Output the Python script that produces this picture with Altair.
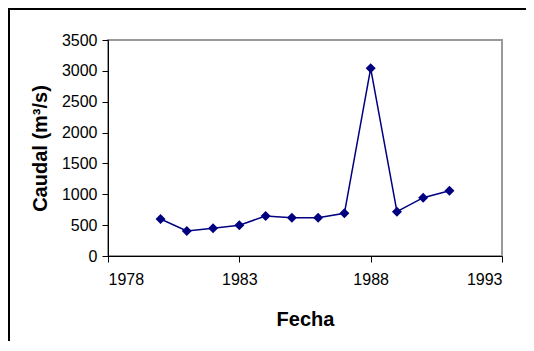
import altair as alt
import pandas as pd

years = [1980, 1981, 1982, 1983, 1984, 1985, 1986, 1987, 1988, 1989, 1990, 1991]
caudal = [600, 405, 450, 500, 648, 621, 621, 691, 3041, 718, 945, 1058]
x_ticks = [1978, 1983, 1988, 1993]
y_ticks = [0, 500, 1000, 1500, 2000, 2500, 3000, 3500]

df = pd.DataFrame({"Fecha": years, "Caudal": caudal})

FONT = "Liberation Sans"

x = alt.X("Fecha:Q", scale=alt.Scale(domain=[1978, 1993], nice=False, zero=False),
          axis=alt.Axis(title="Fecha", values=x_ticks, format="d", grid=False,
                        tickSize=6, tickColor="black", domainColor="black",
                        labelFontSize=16, labelColor="black", labelPadding=9,
                        titleFontSize=20, titleFontWeight="bold", titleColor="black",
                        titlePadding=22, labelFont=FONT, titleFont=FONT))
y = alt.Y("Caudal:Q", scale=alt.Scale(domain=[0, 3500], nice=False),
          axis=alt.Axis(title="Caudal (m³/s)", values=y_ticks, format="d", grid=False,
                        tickSize=6, tickColor="black", domainColor="black",
                        labelFontSize=16, labelColor="black", labelPadding=5,
                        titleFontSize=20, titleFontWeight="bold", titleColor="black",
                        titlePadding=11, labelFont=FONT, titleFont=FONT))

line = alt.Chart(df).mark_line(color="#000080", strokeWidth=1.5).encode(x=x, y=y)
pts = alt.Chart(df).mark_point(shape="diamond", filled=True, size=100,
                               color="#000080", opacity=1).encode(x=x, y=y)

border_top = alt.Chart(df).mark_rule(color="black", strokeWidth=1.5).encode(
    x=alt.value(-99.25), x2=alt.value(500), y=alt.value(-31.25))
border_left = alt.Chart(df).mark_rule(color="black", strokeWidth=1.5).encode(
    x=alt.value(-99.25), y=alt.value(-31.25), y2=alt.value(320))

chart = alt.layer(border_top, border_left, line, pts).properties(
    width=394, height=216,
    padding={"left": 100, "top": 32, "right": 24, "bottom": 85},
    autosize=alt.AutoSizeParams(type="none"),
).configure_view(stroke="#999999", strokeWidth=2)

chart.save("out.html", embed_options={"renderer": "svg", "actions": False})
